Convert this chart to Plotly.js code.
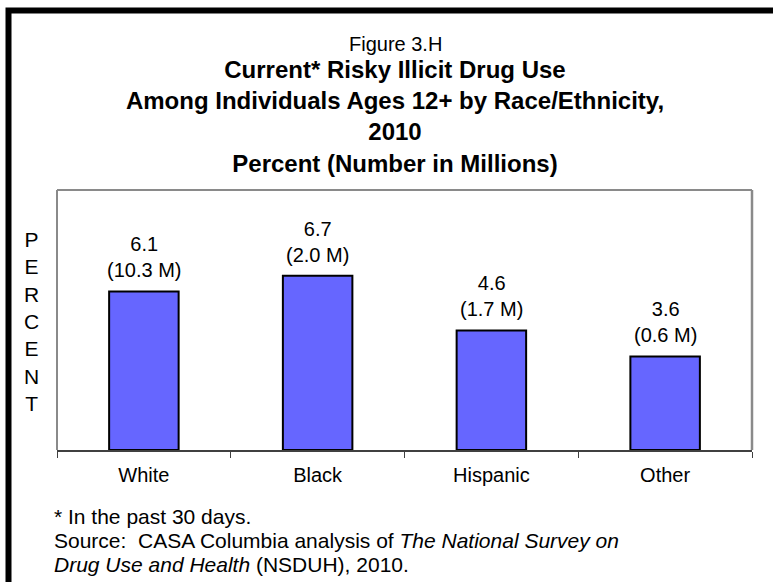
<!DOCTYPE html>
<html><head><meta charset="utf-8">
<script src="https://cdn.plot.ly/plotly-3.0.1.min.js"></script>
<style>html,body{margin:0;padding:0;background:#fff;overflow:hidden}#chart{width:773px;height:582px}</style>
</head><body><div id="chart"></div>
<script>
// ---- data ----
const categories = ['White', 'Black', 'Hispanic', 'Other'];
const percentValues = [6.1, 6.7, 4.6, 3.6];
const millionsValues = [10.3, 2.0, 1.7, 0.6];
const figureLabel = 'Figure 3.H';
const titleLines = ['Current* Risky Illicit Drug Use',
  'Among Individuals Ages 12+ by Race/Ethnicity,',
  '2010',
  'Percent (Number in Millions)'];
const yLabelText = 'PERCENT';
const footnoteLines = ['* In the past 30 days.',
  'Source:  CASA Columbia analysis of <i>The National Survey on</i>',
  '<i>Drug Use and Health</i> (NSDUH), 2010.'];

// ---- layout helpers ----
const W = 773, H = 582, M = {l: 57, r: 21, t: 190, b: 132};
const PW = W - M.l - M.r, PH = H - M.t - M.b;
const px = x => (x - M.l) / PW;
const py = y => (H - M.b - y) / PH;
const FONT = 'Liberation Sans, Arial, sans-serif';

const barLabels = percentValues.map((v, i) =>
  v.toFixed(1) + '<br>(' + millionsValues[i].toFixed(1) + ' M)');

const trace = {
  type: 'bar', x: categories, y: percentValues, width: 0.4,
  marker: {color: '#6666ff', line: {color: '#000000', width: 2}},
  hoverinfo: 'skip'
};

const annotations = [];
categories.forEach((c, i) => annotations.push({
  x: c, y: percentValues[i], xref: 'x', yref: 'y', text: barLabels[i],
  showarrow: false, yanchor: 'bottom', xanchor: 'center', yshift: 8,
  font: {family: FONT, size: 20, color: '#000'}
}));
annotations.push({
  x: px(395), xref: 'paper', y: py(44), yref: 'paper', text: figureLabel,
  showarrow: false, xanchor: 'center', yanchor: 'middle',
  font: {family: FONT, size: 20, color: '#000'}
});
annotations.push({
  x: px(31), xref: 'paper', y: py(321.5), yref: 'paper',
  text: yLabelText.split('').join('<br>'),
  showarrow: false, xanchor: 'center', yanchor: 'middle', align: 'center',
  font: {family: FONT, size: 21, color: '#000'}
});
const footY = [516, 540, 564];
footnoteLines.forEach((t, i) => annotations.push({
  x: px(52), xref: 'paper', y: py(footY[i]), yref: 'paper', text: t,
  showarrow: false, xanchor: 'left', yanchor: 'middle', align: 'left',
  font: {family: FONT, size: 21, color: '#000'}
}));

const gray = '#8a8a8a';
const shapes = [
  // outer black frame (extends beyond the visible window on right/bottom)
  {type: 'rect', xref: 'paper', yref: 'paper', x0: px(8.5), x1: px(830), y0: py(640), y1: py(10.5),
   line: {color: '#000', width: 6}, fillcolor: 'rgba(0,0,0,0)', layer: 'below'},
  // plot area border (left, top, right) in gray
  {type: 'line', xref: 'paper', yref: 'paper', x0: 0, x1: 0, y0: 0, y1: 1, line: {color: gray, width: 2}},
  {type: 'line', xref: 'paper', yref: 'paper', x0: 0, x1: 1, y0: 1, y1: 1, line: {color: gray, width: 2}},
  {type: 'line', xref: 'paper', yref: 'paper', x0: 1, x1: 1, y0: 0, y1: 1, line: {color: gray, width: 2.5}}
];

const layout = {
  width: W, height: H, margin: M,
  paper_bgcolor: '#ffffff', plot_bgcolor: '#ffffff',
  showlegend: false,
  title: {
    text: titleLines.join('<br>'), xref: 'container', x: 395 / W, xanchor: 'center',
    yref: 'container', y: 1 - 78 / H, yanchor: 'middle',
    font: {family: FONT, size: 24, color: '#000', weight: 'bold'}
  },
  xaxis: {
    type: 'category', tickson: 'boundaries', ticks: 'outside', ticklen: 6, tickwidth: 1,
    tickcolor: '#404040', showline: true, linecolor: '#404040', linewidth: 1.5,
    showgrid: false, zeroline: false, fixedrange: true, ticklabelstandoff: 6,
    tickfont: {family: FONT, size: 20, color: '#000'}
  },
  yaxis: {
    range: [0, 10], showticklabels: false, ticks: '', showgrid: false,
    zeroline: false, showline: false, fixedrange: true
  },
  annotations: annotations, shapes: shapes
};

Plotly.newPlot('chart', [trace], layout, {staticPlot: true, displayModeBar: false});
</script>
</body></html>
